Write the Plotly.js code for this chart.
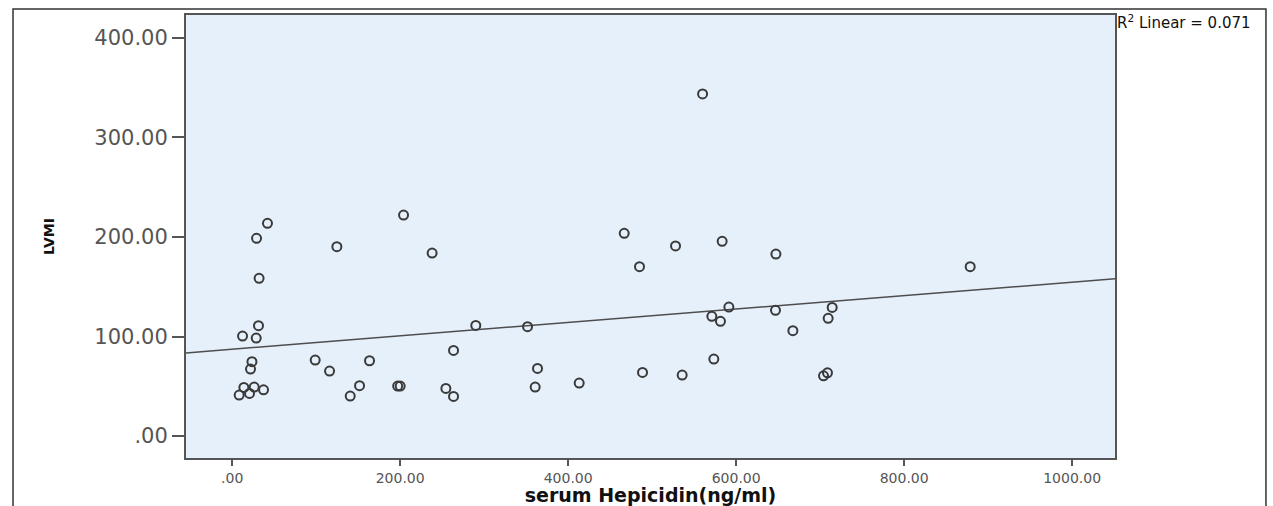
<!DOCTYPE html>
<html>
<head>
<meta charset="utf-8">
<script src="https://cdn.plot.ly/plotly-3.0.1.min.js"></script>
<style>
  html, body { margin: 0; padding: 0; background: #ffffff; }
  #chart { width: 1273px; height: 506px; }
</style>
</head>
<body>
<div id="chart"></div>
<script>
// Data
const hepcidin = [31.3, 12.3, 28.6, 23.5, 21.8, 13.9, 26.2, 37.3, 8.3, 20.6,
  42, 29, 32, 98.8, 115.9, 124.6, 151.6, 140.5, 163.5, 197,
  200, 204, 238, 254.4, 263.5, 263.5, 290, 351.6, 360.7, 363.5,
  413.1, 466.7, 484.9, 488.5, 527.8, 535.7, 560, 571, 573.4, 581.3,
  583.3, 591.3, 646.8, 647.3, 667.5, 704, 708.7, 709.5, 714.3, 878.6];
const lvmi = [110.9, 100.5, 98.5, 74.7, 67.3, 48.9, 49.2, 46.5, 41.2, 42.9,
  213.7, 198.7, 158.5, 76.4, 65.3, 190.3, 50.6, 40.2, 75.7, 50.3,
  50.3, 222, 183.9, 47.9, 39.9, 86.1, 111.2, 109.9, 49.2, 68,
  53.3, 203.7, 170.2, 64, 191, 61.3, 343.7, 120.3, 77.4, 115.3,
  195.7, 129.6, 126.3, 182.9, 105.9, 60.6, 63.6, 118.3, 129.3, 170.2];

const xTickVals = [0, 200, 400, 600, 800, 1000];
const xTickText = ['.00', '200.00', '400.00', '600.00', '800.00', '1000.00'];
const yTickVals = [0, 100, 200, 300, 400];
const yTickText = ['.00', '100.00', '200.00', '300.00', '400.00'];
const xRange = [-55, 1051];
const yRange = [-22, 423];
const r2Label = 'R<sup>2</sup> Linear = 0.071';

// least-squares fit line computed from the data
const n = hepcidin.length;
const mx = hepcidin.reduce((a, b) => a + b, 0) / n;
const my = lvmi.reduce((a, b) => a + b, 0) / n;
let sxy = 0, sxx = 0;
for (let i = 0; i < n; i++) {
  sxy += (hepcidin[i] - mx) * (lvmi[i] - my);
  sxx += (hepcidin[i] - mx) * (hepcidin[i] - mx);
}
const slope = sxy / sxx;
const intercept = my - slope * mx;
const fitX = xRange.slice();
const fitY = fitX.map(v => intercept + slope * v);

const traces = [
  {
    x: fitX, y: fitY, type: 'scatter', mode: 'lines',
    line: { color: '#4d4d4d', width: 1.5 },
    hoverinfo: 'skip', showlegend: false
  },
  {
    x: hepcidin, y: lvmi, type: 'scatter', mode: 'markers',
    marker: { symbol: 'circle-open', size: 9, color: '#3a3a3a', line: { width: 2, color: '#3a3a3a' } },
    showlegend: false
  }
];

const layout = {
  width: 1273, height: 506,
  margin: { l: 186, r: 158, t: 15, b: 48, pad: 0 },
  paper_bgcolor: '#ffffff',
  plot_bgcolor: '#e6f0fb',
  showlegend: false,
  xaxis: {
    range: xRange, tickvals: xTickVals, ticktext: xTickText,
    showgrid: false, zeroline: false,
    showline: true, mirror: true, linecolor: '#555555', linewidth: 2,
    ticks: 'outside', ticklen: 6, tickwidth: 2, tickcolor: '#555555',
    tickfont: { family: 'DejaVu Sans', size: 14, color: '#555555' },
    title: { text: 'serum Hepicidin(ng/ml)', standoff: 5,
      font: { family: 'DejaVu Sans', size: 19, color: '#111111', weight: 'bold' } }
  },
  yaxis: {
    range: yRange, tickvals: yTickVals, ticktext: yTickText,
    showgrid: false, zeroline: false,
    showline: true, mirror: true, linecolor: '#555555', linewidth: 2,
    ticks: 'outside', ticklen: 12, tickwidth: 2, tickcolor: '#555555',
    tickfont: { family: 'DejaVu Sans', size: 21, color: '#555555' },
    title: { text: 'LVMI', standoff: 36,
      font: { family: 'DejaVu Sans', size: 14, color: '#111111', weight: 'bold' } }
  },
  shapes: [
    { type: 'rect', xref: 'paper', yref: 'paper',
      x0: -0.1862, x1: 1.1625, y0: -0.2, y1: 1.0135,
      line: { color: '#333333', width: 1.5 }, fillcolor: 'rgba(0,0,0,0)', layer: 'below' }
  ],
  annotations: [
    { xref: 'paper', yref: 'paper', x: 1.0, y: 0.985, xanchor: 'left', yanchor: 'middle',
      text: r2Label, showarrow: false,
      font: { family: 'DejaVu Sans', size: 15, color: '#111111' } }
  ]
};

Plotly.newPlot('chart', traces, layout, { displayModeBar: false, staticPlot: true });
</script>
</body>
</html>
